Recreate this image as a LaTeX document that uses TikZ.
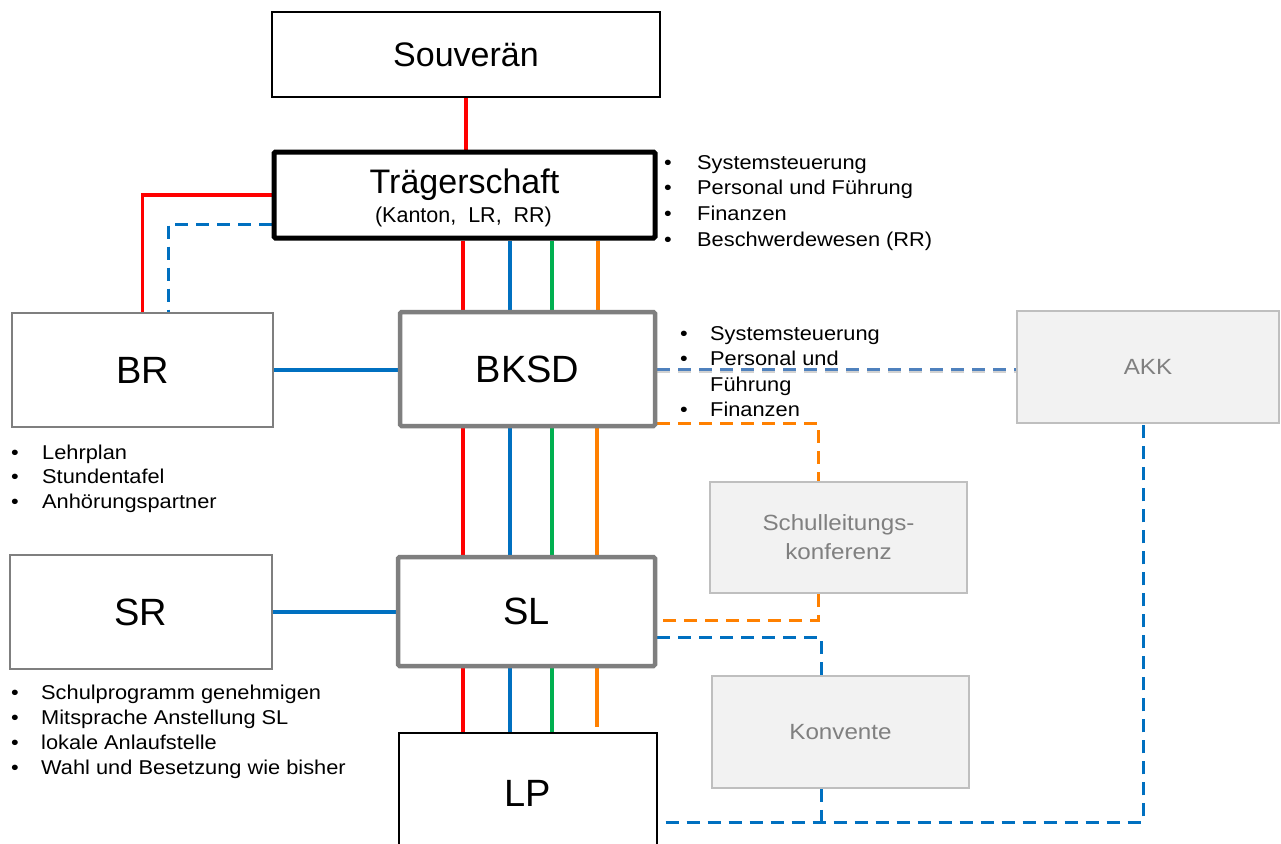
\documentclass[tikz,border=0pt]{standalone}
\usepackage{fontspec}
\setmainfont{Liberation Sans}
\newfontfamily\widefont[FakeStretch=1.09]{Liberation Sans}
\newfontfamily\widerfont[FakeStretch=1.1]{Liberation Sans}
\usetikzlibrary{calc,backgrounds}
\definecolor{cred}{RGB}{255,0,0}
\definecolor{cblue}{RGB}{0,112,192}
\definecolor{cgreen}{RGB}{0,176,80}
\definecolor{corange}{RGB}{255,128,0}
\definecolor{csteel}{RGB}{79,129,189}
\definecolor{boxgray}{RGB}{127,127,127}
\definecolor{lightfill}{RGB}{242,242,242}
\definecolor{lightedge}{RGB}{191,191,191}
\definecolor{softtext}{RGB}{128,128,128}
\newcommand{\bl}[2]{\makebox[#1][l]{•}#2}
\begin{document}
\begin{tikzpicture}[x=1pt,y=-1pt,
  box/.style={draw, rectangle, inner sep=0pt, align=center},
  thinblack/.style={box, draw=black, line width=1.3pt, fill=white},
  thingray/.style={box, draw=boxgray, line width=1.3pt, fill=white},
  thickgray/.style={box, draw=boxgray, line width=4.5pt, fill=white, rounded corners=1.5pt},
  thickblack/.style={box, draw=black, line width=5pt, fill=white, rounded corners=1.5pt},
  softbox/.style={box, draw=lightedge, line width=1.8pt, fill=lightfill, text=softtext, font=\widerfont\fontsize{22}{29}\selectfont},
  big/.style={font=\fontsize{38}{44}\selectfont},
  mid/.style={font=\fontsize{34}{40}\selectfont},
  solidline/.style={line width=3.6pt},
  dashline/.style={line width=3pt, dash pattern=on 13pt off 8pt},
  bul/.style={anchor=base west, inner sep=0pt, font=\widefont\fontsize{20}{24}\selectfont},
]
\useasboundingbox (0,0) rectangle (1281,843);
\clip (0,0) rectangle (1281,843);

% boxes
\node[thinblack, minimum width=388pt, minimum height=85pt, mid] (sov) at (466,54.5) {Souverän};
\node[thickblack, minimum width=381pt, minimum height=86pt] (trag) at (464.5,195) {};
\node[mid, anchor=base, inner sep=0pt] (tragt) at (464.5,193) {Trägerschaft};
\node[font=\fontsize{21.5}{24}\selectfont, anchor=base, inner sep=0pt] (tragsub) at (463.5,222) {(Kanton,\ \ LR,\ \ RR)};

\node[thingray, minimum width=261pt, minimum height=114pt, big] (br) at (142.5,370) {BR};
\node[thickgray, minimum width=255pt, minimum height=114pt, big] (bksd) at (527.5,369) {BKSD};
\node[thickgray, minimum width=257pt, minimum height=109pt, big] (sl) at (526.5,611.5) {SL};
\node[thingray, minimum width=262pt, minimum height=114pt, big] (sr) at (141,612) {SR};
\node[thinblack, minimum width=258pt, minimum height=134pt] (lp) at (528,800) {};
\node[big, inner sep=0pt] (lpt) at (528,793) {LP};

\node[softbox, minimum width=262pt, minimum height=112pt] (akk) at (1148,367) {AKK};
\node[softbox, minimum width=257pt, minimum height=111pt] (slk) at (838.5,537.5) {Schulleitungs-\\konferenz};
\node[softbox, minimum width=257pt, minimum height=112pt] (konv) at (840.5,732) {Konvente};

% helper coordinates
\coordinate (xr) at (463,0);
\coordinate (xb) at (510,0);
\coordinate (xg) at (552,0);
\coordinate (xo) at (598,0);
\coordinate (xo2) at (597,0);
\coordinate (xbd) at (168,0);
\coordinate (xslk) at (818,0);
\coordinate (xkonv) at (821,0);
\coordinate (xakk) at (1143,0);
\coordinate (ybot) at (0,822);
\coordinate (yorsl) at (0,620);
\coordinate (yblsl) at (0,637);
\coordinate (lpend) at (597,727);

\begin{pgfonlayer}{background}
\fill[white] (0,0) rectangle (1281,843);
% solid connectors
\draw[solidline, cred] (sov.south) -- (sov.south |- trag.north);
\draw[solidline, cred] (trag.west) -| (br.north);
\draw[dashline, cblue] ([yshift=-29pt]trag.west) -| (br.north -| xbd);
\draw[solidline, cblue] (br.east) -- (br.east -| bksd.west);
\draw[solidline, cblue] (sr.east) -- (sr.east -| sl.west);
\draw[solidline, cred] (trag.south -| xr) -- (bksd.north -| xr);
\draw[solidline, cblue] (trag.south -| xb) -- (bksd.north -| xb);
\draw[solidline, cgreen] (trag.south -| xg) -- (bksd.north -| xg);
\draw[solidline, corange] (trag.south -| xo) -- (bksd.north -| xo);
\draw[solidline, cred] (bksd.south -| xr) -- (sl.north -| xr);
\draw[solidline, cblue] (bksd.south -| xb) -- (sl.north -| xb);
\draw[solidline, cgreen] (bksd.south -| xg) -- (sl.north -| xg);
\draw[solidline, corange] (bksd.south -| xo2) -- (sl.north -| xo2);
\draw[solidline, cred] (sl.south -| xr) -- (lp.north -| xr);
\draw[solidline, cblue] (sl.south -| xb) -- (lp.north -| xb);
\draw[solidline, cgreen] (sl.south -| xg) -- (lp.north -| xg);
\draw[solidline, corange] (sl.south -| xo2) -- (lpend);
% dashed connectors
\draw[dashline, black!35, opacity=0.5] ([yshift=-2.5pt]bksd.east) -- ([yshift=-2.5pt]bksd.east -| akk.west);
\draw[dashline, csteel] (bksd.east) -- (bksd.east -| akk.west);
\draw[dashline, corange] ([yshift=-54pt]bksd.east) -| (slk.north -| xslk);
\draw[dashline, corange] (slk.south -| xslk) |- (sl.east |- yorsl);
\draw[dashline, cblue] (sl.east |- yblsl) -| (konv.north -| xkonv);
\draw[dashline, cblue] (konv.south -| xkonv) -- (xkonv |- ybot);
\draw[dashline, cblue] ([xshift=8pt]lp.east |- ybot) -| (akk.south -| xakk);
\end{pgfonlayer}

% bullet lists
\foreach [count=\i] \t in {Systemsteuerung, Personal und Führung, Finanzen, Beschwerdewesen (RR)}
  \node[bul] (trl\i) at (664,{169+25.7*(\i-1)}) {\bl{33pt}{\t}};
\node[bul] (bk1) at (680,340) {\bl{30pt}{Systemsteuerung}};
\node[bul] (bk2) at (680,365.5) {\bl{30pt}{Personal und}};
\node[bul] (bk3) at (710,391) {Führung};
\node[bul] (bk4) at (680,416.5) {\bl{30pt}{Finanzen}};
\foreach [count=\i] \t in {Lehrplan, Stundentafel, Anhörungspartner}
  \node[bul] (brl\i) at (11,{459+24.5*(\i-1)}) {\bl{31pt}{\t}};
\foreach [count=\i] \t in {Schulprogramm genehmigen, Mitsprache Anstellung SL, lokale Anlaufstelle, Wahl und Besetzung wie bisher}
  \node[bul] (srl\i) at (11,{699+25.3*(\i-1)}) {\bl{30pt}{\t}};
\end{tikzpicture}
\end{document}
